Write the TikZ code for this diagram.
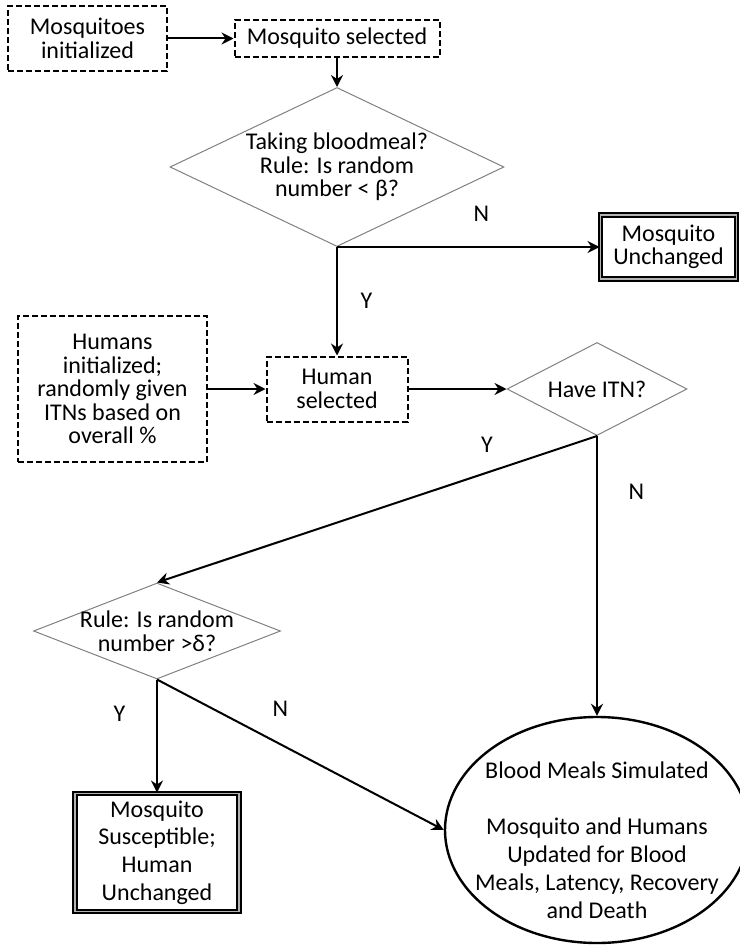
\documentclass[tikz,border=0pt]{standalone}
\usepackage{fontspec}
\setmainfont{Carlito}
\usepackage{tikz}
\usetikzlibrary{shapes,arrows.meta,positioning,calc}

\begin{document}
\begin{tikzpicture}[x=0.5pt,y=-0.5pt,
    font=\fontsize{12}{11.75}\selectfont,
    dashbox/.style={draw, line width=1pt, dash pattern=on 3pt off 1.5pt, align=center, inner sep=2pt},
    decision/.style={diamond, draw=gray, line width=0.5pt, align=center, inner sep=0pt},
    endbox/.style={draw, line width=1pt, double=gray!60, double distance=0.8pt, align=center},
    flow/.style={-{Stealth[length=6pt,width=6pt,inset=2pt]}, line width=1pt}]
    \useasboundingbox (0,0) rectangle (739,947);

    % mosquito side
    \node[dashbox, minimum width=79.5pt, minimum height=32.5pt] (mi) at (87.5,38.5) {Mosquitoes\\initialized};
    \node[dashbox, minimum width=102.5pt, minimum height=18.5pt] (ms) at (337,38.5) {Mosquito selected};
    \node[decision, minimum width=167pt, minimum height=79.5pt, aspect=2.1] (bm) at (337,167) {Taking bloodmeal?\\Rule: Is random\\number < β?};
    \node[endbox, minimum width=68pt, minimum height=32pt] (mu) at (668.5,247) {Mosquito\\Unchanged};

    % human side
    \node[dashbox, minimum width=94.5pt, minimum height=73pt] (hi) at (112.5,389) {Humans\\initialized;\\randomly given\\ITNs based on\\overall \%};
    \node[dashbox, minimum width=70.5pt, minimum height=32.5pt] (hs) at (337,389) {Human\\selected};
    \node[decision, minimum width=90pt, minimum height=46.5pt, aspect=1.9] (itn) at (597,389) {Have ITN?};

    % ITN rule and outcomes
    \node[decision, inner sep=-2pt, minimum width=123.5pt, minimum height=48pt, aspect=2.57] (dl) at (157,631) {Rule: Is random\\number >δ?};
    \node[endbox, minimum width=82pt, minimum height=59pt, font=\fontsize{12}{13.8}\selectfont] (msu) at (157,852.5) {Mosquito\\Susceptible;\\Human\\Unchanged};
    \node[ellipse, draw, line width=1.2pt, minimum width=152pt, minimum height=113pt] (bl) at (597,830) {};
    \node[align=center, font=\fontsize{12}{14}\selectfont] (blt) at (597,840) {Blood Meals Simulated\\[14pt]Mosquito and Humans\\Updated for Blood\\Meals, Latency, Recovery\\and Death};

    % connectors
    \draw[flow] (mi) -- (ms);
    \draw[flow] (ms) -- (bm);
    \draw[flow] (bm.south) -- (mu) node[pos=0.55, above=9pt] {N};
    \draw[flow] (bm.south) -- (hs) node[midway, right=8pt] {Y};
    \draw[flow] (hi) -- (hs);
    \draw[flow] (hs) -- (itn);
    \draw[flow] (itn.south) -- (dl.north) node[pos=0.25, above=6pt] {Y};
    \draw[flow] (itn.south) -- (bl) node[pos=0.2, right=12pt] {N};
    \draw[flow] (dl.south) -- (msu) node[pos=0.3, left=12pt] {Y};
    \draw[flow] (dl.south) -- (bl.west) node[pos=0.43, above=10pt] {N};
\end{tikzpicture}
\end{document}
